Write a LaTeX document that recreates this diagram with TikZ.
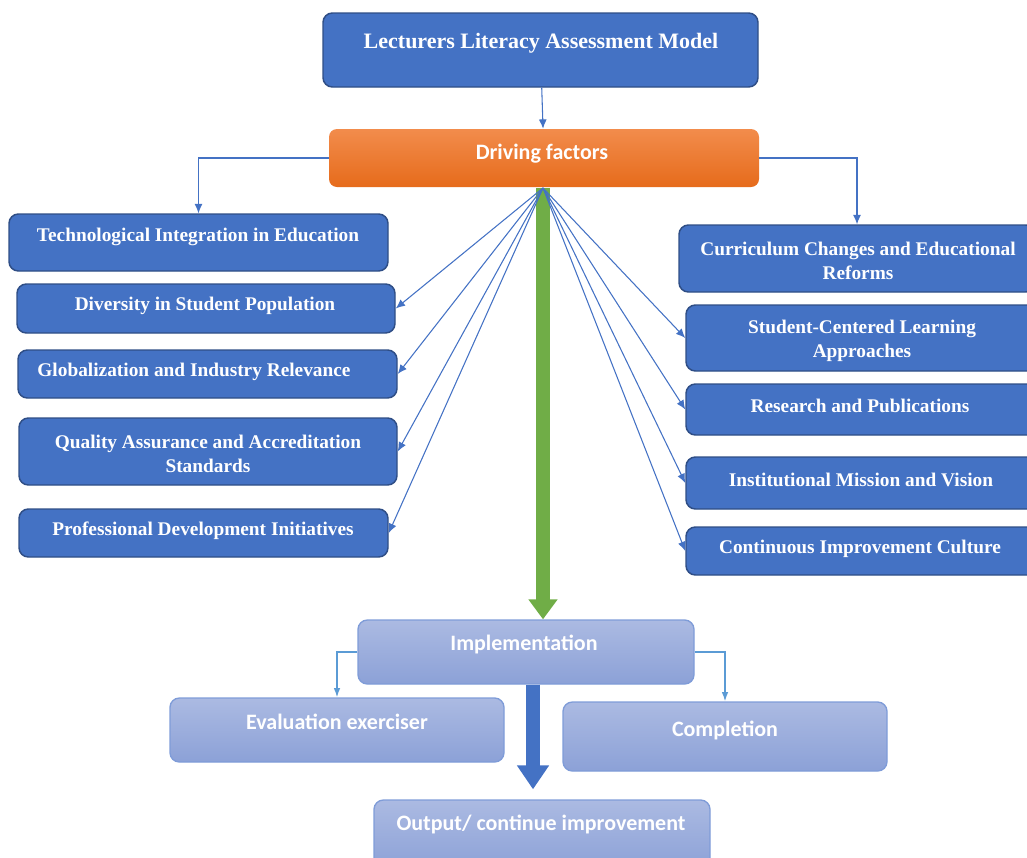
\documentclass[tikz,border=0pt]{standalone}
\usepackage{fontspec}
\setmainfont{Liberation Serif}
\newfontfamily\calfont{Carlito}
\usetikzlibrary{arrows.meta,calc,fit}
\definecolor{bfill}{HTML}{4472C4}
\definecolor{bdraw}{HTML}{2F4E86}
\definecolor{otop}{HTML}{F28C4C}
\definecolor{obot}{HTML}{E66B1B}
\definecolor{ltop}{HTML}{ABBAE2}
\definecolor{lbot}{HTML}{8CA1D7}
\definecolor{ldraw}{HTML}{7F9CD8}
\definecolor{gArrow}{HTML}{70AD47}
\definecolor{eline}{HTML}{5B9BD5}
\tikzset{
  bbox/.style={draw=bdraw, fill=bfill, rounded corners=7pt, line width=1.1pt, inner sep=0pt},
  obox/.style={draw=none, top color=otop, bottom color=obot, rounded corners=6pt, inner sep=0pt},
  lbox/.style={draw=ldraw, top color=ltop, bottom color=lbot, rounded corners=7pt, line width=1pt, inner sep=0pt},
  btxt/.style={text=white, font=\bfseries\fontsize{14.5}{17.5}\selectfont, align=center, inner sep=0pt},
  ttxt/.style={text=white, font=\bfseries\fontsize{16.5}{19}\selectfont, align=center, inner sep=0pt},
  ctxt/.style={text=white, font=\calfont\bfseries\fontsize{16.5}{19}\selectfont, align=center, inner sep=0pt},
  fan/.style={draw=bfill, line width=0.8pt, -{Latex[length=7pt,width=6pt]}},
  elb/.style={draw=eline, line width=1pt, -{Latex[length=7pt,width=5pt]}},
}
\begin{document}
\begin{tikzpicture}[x=0.75pt,y=-0.75pt]
\useasboundingbox (0,0) rectangle (1027,857);
\clip (0,0) rectangle (1027,857);

% top boxes
\node[bbox, fit={(323,13) (758,87)}] (top) {};
\node[ttxt] (topT) at (541,43) {Lecturers Literacy Assessment Model};
\node[obox, fit={(329,129) (759,187)}] (drv) {};
\node[ctxt] (drvT) at (542,154) {Driving factors};

% left boxes
\node[bbox, fit={(9,214) (388,271)}] (tech) {};
\node[btxt] (techT) at (198,237) {Technological Integration in Education};
\node[bbox, fit={(17,284) (395,333)}] (div) {};
\node[btxt] (divT) at (205,306) {Diversity in Student Population};
\node[bbox, fit={(18,350) (397,398)}] (glob) {};
\node[btxt] (globT) at (194,372) {Globalization and Industry Relevance};
\node[bbox, fit={(19,418) (397,485)}] (qual) {};
\node[btxt] (qualT) at (208,454) {Quality Assurance and Accreditation\\Standards};
\node[bbox, fit={(19,509) (388,557)}] (prof) {};
\node[btxt] (profT) at (203,531) {Professional Development Initiatives};

% right boxes
\node[bbox, fit={(679,225) (1035,292)}] (cur) {};
\node[btxt] (curT) at (858,261) {Curriculum Changes and Educational\\Reforms};
\node[bbox, fit={(686,305) (1040,371)}] (stu) {};
\node[btxt] (stuT) at (862,341) {Student-Centered Learning\\Approaches};
\node[bbox, fit={(686,384) (1040,435)}] (res) {};
\node[btxt] (resT) at (860,406) {Research and Publications};
\node[bbox, fit={(686,457) (1040,509)}] (inst) {};
\node[btxt] (instT) at (861,480) {Institutional Mission and Vision};
\node[bbox, fit={(686,527) (1040,575)}] (cont) {};
\node[btxt] (contT) at (860,549) {Continuous Improvement Culture};

% lower boxes
\node[lbox, fit={(358,620) (694,684)}] (impl) {};
\node[ctxt] (implT) at (524,644) {Implementation};
\node[lbox, fit={(170,698) (504,762)}] (eval) {};
\node[ctxt] (evalT) at (337,722) {Evaluation exerciser};
\node[lbox, fit={(563,702) (887,771)}] (comp) {};
\node[ctxt] (compT) at (725,730) {Completion};
\node[lbox, fit={(374,800) (710,870)}] (out) {};
\node[ctxt] (outT) at (541,824) {Output/ continue improvement};

% connectors
\coordinate (fanp) at (543,188);
\coordinate (bx) at (533,0);
\draw[draw=white, line width=14pt] (fanp) -- ($(impl.north -| fanp)+(0,-25)$);
\draw[draw=gArrow, line width=11pt, -{Triangle[length=15pt,width=21pt]}] (fanp) -- (impl.north -| fanp);
\draw[draw=bfill, line width=10pt, -{Triangle[length=18pt,width=23pt]}] (impl.south -| bx) -- ($(out.north -| bx)+(0,-10)$);

\draw[fan] (top) -- (drv);
\draw[fan] (drv.west) -| (tech.north);
\draw[fan] (drv.east) -| (cur.north);
\foreach \t in {div,glob,qual,prof}{\draw[fan] (fanp) -- (\t.east);}
\foreach \t in {stu,res,inst,cont}{\draw[fan] (fanp) -- (\t.west);}

\draw[elb] (impl.west) -| (eval.north);
\draw[elb] (impl.east) -| (comp.north);
\end{tikzpicture}
\end{document}
